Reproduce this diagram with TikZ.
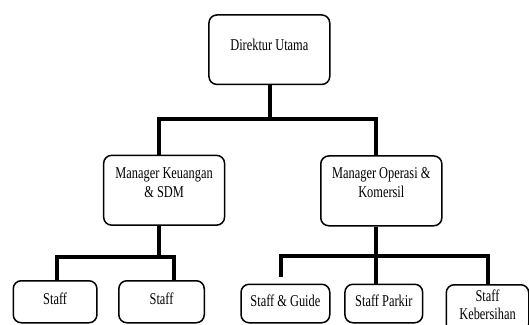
\documentclass[tikz,border=0pt]{standalone}
\usepackage{fontspec}
\setmainfont{Liberation Serif}[FakeStretch=0.75]
\begin{document}
\begin{tikzpicture}[x=1pt,y=-1pt,
  box/.style={draw, line width=1.5pt, rounded corners=8pt, inner sep=0pt,
    minimum height=0pt, anchor=north west, font=\fontsize{16.5}{19}\selectfont},
  conn/.style={line width=4pt, line join=miter}]
\useasboundingbox (0,0) rectangle (529,324);
\clip (0,0) rectangle (529,324);
% boxes
\node[box, minimum width=120.8pt, text height=35.3pt, text depth=34.2pt] (du) at (208.2,14.2) {Direktur Utama};
\node[box, minimum width=120.9pt, text height=22.9pt, text depth=46.9pt] (keu) at (102.9,154.6)
  {\begin{tabular}[t]{@{}c@{}}Manager Keuangan\\ \& SDM\end{tabular}};
\node[box, minimum width=121.1pt, text height=22.8pt, text depth=47pt] (op) at (320,155.2)
  {\begin{tabular}[t]{@{}c@{}}Manager Operasi \&\\ Komersil\end{tabular}};
\node[box, minimum width=83.7pt, text height=24pt, text depth=18pt] (s1) at (12.5,280) {Staff};
\node[box, minimum width=85.4pt, text height=24pt, text depth=18pt] (s2) at (118.1,280) {Staff};
\node[box, minimum width=88.7pt, text height=22pt, text depth=16.5pt] (sg) at (240.3,283.5) {Staff \& Guide};
\node[box, minimum width=77.7pt, text height=22pt, text depth=16.5pt] (sp) at (344.2,283.5) {Staff Parkir};
\node[box, minimum width=82.5pt, text height=17pt, text depth=30pt] (sk) at (445.5,284)
  {\begin{tabular}[t]{@{}c@{}}Staff\\[-1pt] Kebersihan\end{tabular}};
% junction coordinates
\coordinate (b1) at (270,118.8);
\coordinate (b1l) at (158.8,118.8);
\coordinate (b1r) at (375.8,118.8);
\coordinate (b2) at (158.8,257);
\coordinate (b2l) at (57.4,257);
\coordinate (b2r) at (173.5,257);
\coordinate (b3) at (376.3,255.8);
\coordinate (b3l) at (281,255.8);
\coordinate (b3r) at (487.7,255.8);
\coordinate (g1) at (281,277);
% connectors
\draw[conn] (b1 |- du.south) -- (b1);
\draw[conn] (keu.north -| b1l) -- (b1l) -- (b1r) -- (op.north -| b1r);
\draw[conn] (keu.south -| b2) -- (b2);
\draw[conn] (s1.north -| b2l) -- (b2l) -- (b2r) -- (s2.north -| b2r);
\draw[conn] (op.south -| b3) -- (b3);
\draw[conn] (g1) -- (b3l) -- (b3r) -- (sk.north -| b3r);
\draw[conn] (b3) -- (sp.north -| b3);
\end{tikzpicture}
\end{document}
